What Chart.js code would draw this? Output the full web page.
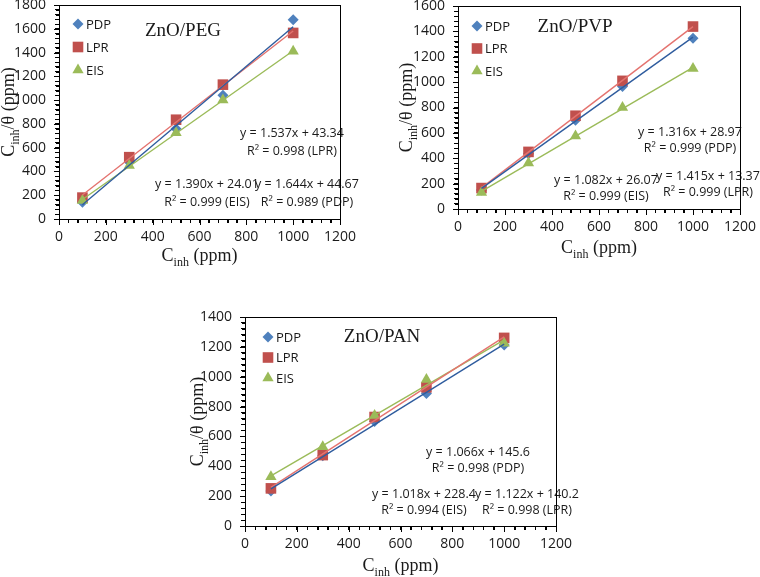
<!DOCTYPE html>
<html><head><meta charset="utf-8">
<script src="https://cdn.jsdelivr.net/npm/chart.js@4.4.1/dist/chart.umd.min.js"></script>
<style>
html,body{margin:0;padding:0;background:#fff;}
body{width:760px;height:577px;position:relative;overflow:hidden;}
canvas{position:absolute;}
.ov{position:absolute;width:0;height:0;pointer-events:none;}
.ov div{position:absolute;background:#000;}
</style></head><body>
<canvas id="c1"></canvas><canvas id="c2"></canvas><canvas id="c3"></canvas>
<script>
// ---------- data ----------
const concentrations = [100, 300, 500, 700, 1000];
const seriesNames = ['PDP', 'LPR', 'EIS'];

const pegPDP = [140, 480, 760, 1040, 1675];
const pegLPR = [180, 520, 835, 1130, 1565];
const pegEIS = [155, 450, 725, 1000, 1410];

const pvpPDP = [150, 435, 700, 965, 1345];
const pvpLPR = [165, 450, 735, 1010, 1438];
const pvpEIS = [130, 362, 575, 800, 1108];

const panPDP = [235, 470, 700, 888, 1212];
const panLPR = [252, 475, 730, 929, 1260];
const panEIS = [330, 531, 740, 982, 1224];

const xAxisMax = 1200;
const xAxisStep = 200;
const yAxisMax = [1800, 1600, 1400];
const yAxisStep = 200;
const minorPerMajor = 5;
const chartTitles = ['ZnO/PEG', 'ZnO/PVP', 'ZnO/PAN'];

const pegEquations = [['y = 1.537x + 43.34', 'R² = 0.998 (LPR)'], ['y = 1.390x + 24.01', 'R² = 0.999 (EIS)'], ['y = 1.644x + 44.67', 'R² = 0.989 (PDP)']];
const pvpEquations = [['y = 1.316x + 28.97', 'R² = 0.999 (PDP)'], ['y = 1.082x + 26.07', 'R² = 0.999 (EIS)'], ['y = 1.415x + 13.37', 'R² = 0.999 (LPR)']];
const panEquations = [['y = 1.066x + 145.6', 'R² = 0.998 (PDP)'], ['y = 1.018x + 228.4', 'R² = 0.994 (EIS)'], ['y = 1.122x + 140.2', 'R² = 0.998 (LPR)']];

// ---------- styles & layout ----------
const seriesStyles = [
  {style: 'rectRot', r: 5.5, color: '#4F81BD', line: '#2F5C9E'},
  {style: 'rect', r: 7.5, color: '#C0504D', line: '#E4736F'},
  {style: 'triangle', r: 6.5, color: '#9BBB59', line: '#9BBB59'}
];
const TXT = '#1a1a1a';
const SANS = '"Open Sans", "Liberation Sans", sans-serif';
const SERIF = '"Liberation Serif", "DejaVu Serif", serif';

const layouts = [
  {canvas: {l: 0, t: -15, w: 365, h: 305}, area: {l: 59, t: 5, r: 340, b: 219},
   titlePos: [124, 26], legend: {x: 19, y: 19, step: 23},
   notePos: [[233, 128], [148, 179], [248, 179]], noteGap: 18, xTitleDy: 42, yTitleDx: 45},
  {canvas: {l: 365, t: -15, w: 400, h: 305}, area: {l: 458, t: 6, r: 740, b: 209},
   titlePos: [117, 21], legend: {x: 19, y: 20, step: 22.5},
   notePos: [[232, 126], [148, 174], [250, 170]], noteGap: 16, xTitleDy: 44, yTitleDx: 46},
  {canvas: {l: 185, t: 295, w: 400, h: 282}, area: {l: 245, t: 317, r: 556, b: 526},
   titlePos: [137, 20], legend: {x: 23, y: 20, step: 20.5},
   notePos: [[233, 135], [179, 177], [282, 177]], noteGap: 16, xTitleDy: 45, yTitleDx: 42}
];

function trendPoints(xs, ys) {
  const n = xs.length;
  const mx = xs.reduce((a, b) => a + b, 0) / n;
  const my = ys.reduce((a, b) => a + b, 0) / n;
  let sxx = 0, sxy = 0;
  for (let i = 0; i < n; i++) { sxx += (xs[i] - mx) ** 2; sxy += (xs[i] - mx) * (ys[i] - my); }
  const b = sxy / sxx, a = my - b * mx;
  return [{x: xs[0], y: a + b * xs[0]}, {x: xs[n - 1], y: a + b * xs[n - 1]}];
}

function drawMarker(ctx, st, x, y) {
  const r = st.r;
  ctx.beginPath();
  if (st.style === 'rectRot') {
    ctx.moveTo(x, y - r); ctx.lineTo(x + r, y); ctx.lineTo(x, y + r); ctx.lineTo(x - r, y); ctx.closePath();
  } else if (st.style === 'rect') {
    const s = r * Math.SQRT1_2; ctx.rect(x - s, y - s, 2 * s, 2 * s);
  } else {
    const a = 2 * Math.PI / 3;
    ctx.moveTo(x, y - r);
    ctx.lineTo(x + Math.sin(a) * r, y - Math.cos(a) * r);
    ctx.lineTo(x + Math.sin(2 * a) * r, y - Math.cos(2 * a) * r);
    ctx.closePath();
  }
  ctx.fillStyle = st.color; ctx.fill();
}

function drawSubTitle(ctx, parts, cx, baseY) {
  const main = '18px ' + SERIF, sub = '12px ' + SERIF;
  let w = 0;
  parts.forEach(p => { ctx.font = p.sub ? sub : main; p.w = ctx.measureText(p.t).width; w += p.w; });
  let x = cx - w / 2;
  ctx.textAlign = 'left'; ctx.textBaseline = 'alphabetic'; ctx.fillStyle = TXT;
  parts.forEach(p => { ctx.font = p.sub ? sub : main; ctx.fillText(p.t, x, baseY + (p.sub ? 5 : 0)); x += p.w; });
}

// plot frame + tick marks, placed from the chart's own area and scales
function drawFrameOverlay(chart, idx) {
  const L = layouts[idx];
  let host = document.getElementById('ov' + idx);
  if (!host) {
    host = document.createElement('div');
    host.id = 'ov' + idx; host.className = 'ov';
    host.style.left = L.canvas.l + 'px'; host.style.top = L.canvas.t + 'px';
    document.body.appendChild(host);
  }
  host.innerHTML = '';
  const add = (x, y, w, h) => {
    const d = document.createElement('div');
    d.style.left = x + 'px'; d.style.top = y + 'px'; d.style.width = w + 'px'; d.style.height = h + 'px';
    host.appendChild(d);
  };
  const a = chart.chartArea, xs = chart.scales.x, ys = chart.scales.y;
  const L0 = Math.round(a.left), R0 = Math.round(a.right), T0 = Math.round(a.top), B0 = Math.round(a.bottom);
  add(L0, T0, R0 - L0 + 1, 1);
  add(L0, B0, R0 - L0 + 1, 1);
  add(L0, T0, 1, B0 - T0 + 1);
  add(R0, T0, 1, B0 - T0 + 1);
  xs.ticks.forEach(t => {
    const major = Math.abs(t.value / xAxisStep - Math.round(t.value / xAxisStep)) < 1e-6;
    add(Math.round(xs.getPixelForValue(t.value)), B0, 1, major ? 6 : 4);
  });
  ys.ticks.forEach(t => {
    const major = Math.abs(t.value / yAxisStep - Math.round(t.value / yAxisStep)) < 1e-6;
    const len = major ? 5 : 3;
    add(L0 - len, Math.round(ys.getPixelForValue(t.value)), len, 1);
  });
}

function makeDecor(idx, equations) {
  const L = layouts[idx];
  return {
    id: 'decor' + idx,
    afterRender(chart) { drawFrameOverlay(chart, idx); },
    afterDraw(chart) {
      const ctx = chart.ctx, a = chart.chartArea;
      ctx.save();
      drawSubTitle(ctx, [{t: 'C'}, {t: 'inh', sub: true}, {t: ' (ppm)'}], (a.left + a.right) / 2, a.bottom + L.xTitleDy);
      ctx.save();
      ctx.translate(a.left - L.yTitleDx, (a.top + a.bottom) / 2);
      ctx.rotate(-Math.PI / 2);
      drawSubTitle(ctx, [{t: 'C'}, {t: 'inh', sub: true}, {t: '/θ (ppm)'}], 0, 0);
      ctx.restore();
      ctx.font = '19px ' + SERIF; ctx.fillStyle = TXT; ctx.textAlign = 'center'; ctx.textBaseline = 'middle';
      ctx.fillText(chartTitles[idx], a.left + L.titlePos[0], a.top + L.titlePos[1]);
      ctx.font = '13px ' + SANS; ctx.textAlign = 'left'; ctx.textBaseline = 'middle';
      seriesNames.forEach((n, i) => {
        const mx = a.left + L.legend.x, my = a.top + L.legend.y + i * L.legend.step;
        drawMarker(ctx, seriesStyles[i], mx, my);
        ctx.fillStyle = TXT; ctx.fillText(n, mx + 8, my + 1);
      });
      ctx.font = '12.5px ' + SANS; ctx.textAlign = 'center'; ctx.textBaseline = 'middle'; ctx.fillStyle = TXT;
      equations.forEach((lines, i) => {
        const p = L.notePos[i];
        lines.forEach((s, j) => ctx.fillText(s, a.left + p[0], a.top + p[1] + j * L.noteGap));
      });
      ctx.restore();
    }
  };
}

function buildChart(idx, canvasId, series, equations) {
  const L = layouts[idx];
  const cv = document.getElementById(canvasId);
  cv.width = L.canvas.w; cv.height = L.canvas.h;
  cv.style.left = L.canvas.l + 'px'; cv.style.top = L.canvas.t + 'px';
  cv.style.width = L.canvas.w + 'px'; cv.style.height = L.canvas.h + 'px';
  const yW = L.area.l - L.canvas.l;
  const xH = 30;
  const padTop = L.area.t - L.canvas.t;
  const padRight = (L.canvas.l + L.canvas.w) - L.area.r;
  const padBottom = L.canvas.h - (L.area.b - L.canvas.t) - xH;
  const datasets = [];
  series.forEach((vals, i) => {
    datasets.push({
      label: seriesNames[i] + ' trend', data: trendPoints(concentrations, vals), showLine: true,
      borderColor: seriesStyles[i].line, borderWidth: 1.4, pointRadius: 0, order: i
    });
  });
  series.forEach((vals, i) => {
    datasets.push({
      label: seriesNames[i], data: concentrations.map((x, j) => ({x: x, y: vals[j]})), showLine: false,
      pointStyle: seriesStyles[i].style, pointRadius: seriesStyles[i].r, backgroundColor: seriesStyles[i].color,
      borderColor: seriesStyles[i].color, borderWidth: 0, order: 10 - i
    });
  });
  const majorOnly = step => v => (Math.abs(v / step - Math.round(v / step)) < 1e-6 ? String(v) : '');
  const axisGrid = {display: true, drawOnChartArea: false, drawTicks: true, tickLength: 4, color: '#000', lineWidth: 1};
  const axisBorder = {display: true, color: '#000', width: 1};
  return new Chart(cv, {
    type: 'scatter',
    data: {datasets: datasets},
    options: {
      responsive: false, animation: false, devicePixelRatio: 1,
      layout: {padding: {left: 0, top: padTop, right: padRight, bottom: padBottom}},
      plugins: {legend: {display: false}, tooltip: {enabled: false}},
      scales: {
        x: {type: 'linear', position: 'bottom', min: 0, max: xAxisMax,
            ticks: {stepSize: xAxisStep / minorPerMajor, autoSkip: false, color: TXT, padding: 6, font: {family: SANS, size: 14}, maxRotation: 0, callback: majorOnly(xAxisStep)},
            grid: axisGrid, border: axisBorder,
            afterFit: s => { s.height = xH; }},
        y: {type: 'linear', position: 'left', min: 0, max: yAxisMax[idx],
            ticks: {stepSize: yAxisStep / minorPerMajor, autoSkip: false, color: TXT, padding: 9, font: {family: SANS, size: 14}, callback: majorOnly(yAxisStep)},
            grid: axisGrid, border: axisBorder,
            afterFit: s => { s.width = yW; }},
        xTop: {type: 'linear', position: 'top', min: 0, max: xAxisMax,
            ticks: {display: false}, grid: {display: false, drawTicks: false}, border: axisBorder,
            afterFit: s => { s.height = 0; }},
        yRight: {type: 'linear', position: 'right', min: 0, max: yAxisMax[idx],
            ticks: {display: false}, grid: {display: false, drawTicks: false}, border: axisBorder,
            afterFit: s => { s.width = 0; }}
      }
    },
    plugins: [makeDecor(idx, equations)]
  });
}

buildChart(0, 'c1', [pegPDP, pegLPR, pegEIS], pegEquations);
buildChart(1, 'c2', [pvpPDP, pvpLPR, pvpEIS], pvpEquations);
buildChart(2, 'c3', [panPDP, panLPR, panEIS], panEquations);
</script>
</body></html>
